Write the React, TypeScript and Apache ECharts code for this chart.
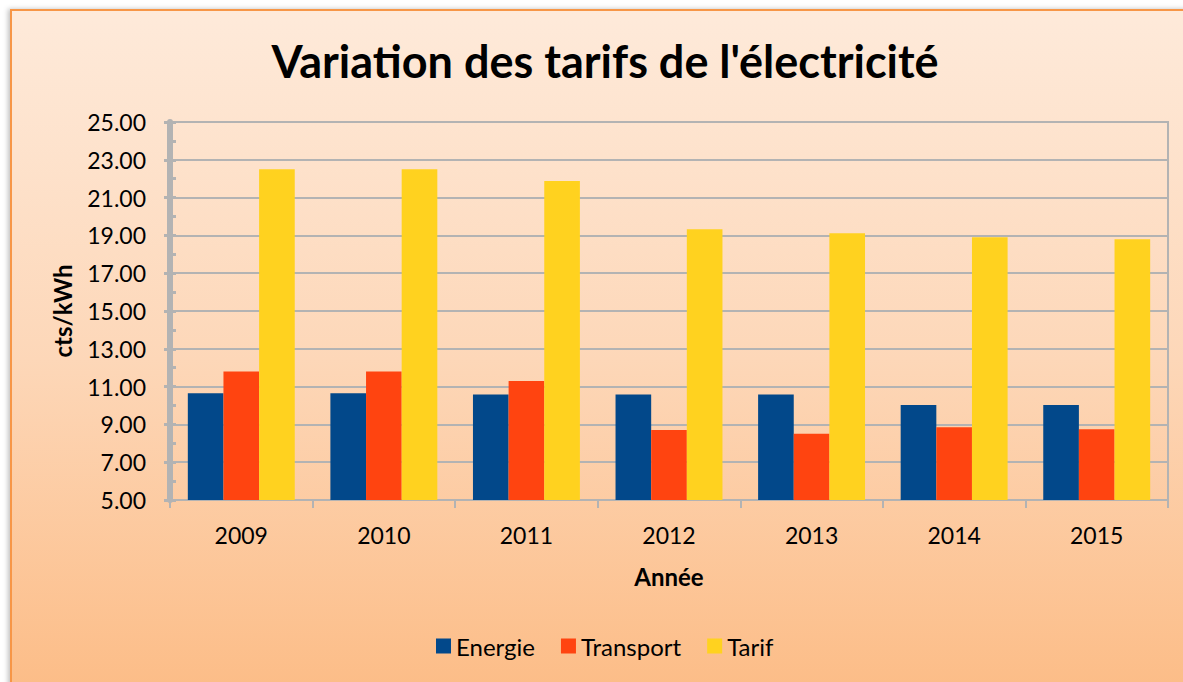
import React, { useEffect, useRef } from "react";
import * as echarts from "echarts";

const TITLE = "Variation des tarifs de l'électricité";
const Y_NAME = "cts/kWh";
const X_NAME = "Année";
const categories = ["2009", "2010", "2011", "2012", "2013", "2014", "2015"];
const energie = [10.65, 10.65, 10.58, 10.58, 10.58, 10.02, 10.02];
const transport = [11.8, 11.8, 11.3, 8.7, 8.5, 8.85, 8.75];
const tarif = [22.5, 22.5, 21.88, 19.33, 19.12, 18.9, 18.8];
const AXIS_MIN = 5;
const AXIS_MAX = 25;
const AXIS_STEP = 2;

const FONT = "Lato, 'Open Sans', sans-serif";
const GREY = "#B3B3B3";

export default function App() {
  const ref = useRef<HTMLDivElement>(null);
  useEffect(() => {
    if (!ref.current) return;
    const chart = echarts.init(ref.current, undefined, { renderer: "svg" });
    const shift = (arr: number[]) => arr.map((v) => +(v - AXIS_MIN).toFixed(4));
    const fmt = (v: number) => (v + AXIS_MIN).toFixed(2);
    chart.setOption({
      animation: false,
      backgroundColor: "#ffffff",
      textStyle: { fontFamily: FONT },
      graphic: [
        {
          type: "rect",
          z: -100,
          shape: { x: 11, y: 10, width: 1190, height: 700 },
          style: {
            fill: new echarts.graphic.LinearGradient(0, 0, 0, 1, [
              { offset: 0, color: "#FEEADA" },
              { offset: 0.5, color: "#FDD7B8" },
              { offset: 1, color: "#FCBB84" },
            ]),
            stroke: "#F79646",
            lineWidth: 2,
            shadowBlur: 5,
            shadowColor: "rgba(0,0,0,0.25)",
            shadowOffsetX: -2,
            shadowOffsetY: 0,
          },
        },
        {
          type: "text",
          x: 605,
          y: 61,
          style: {
            text: TITLE,
            fill: "#000000",
            fontFamily: FONT,
            fontWeight: "bold",
            fontSize: 45,
            align: "center",
            verticalAlign: "middle",
          },
        },
      ],
      grid: {
        left: 170,
        right: 15,
        top: 122,
        bottom: 182,
        show: true,
        borderColor: GREY,
        borderWidth: 2,
        backgroundColor: "transparent",
      },
      legend: {
        left: 431,
        top: 629,
        itemWidth: 15,
        itemHeight: 15,
        itemGap: 26,
        icon: "rect",
        textStyle: { fontFamily: FONT, fontSize: 24, color: "#000000" },
        data: ["Energie", "Transport", "Tarif"],
      },
      xAxis: {
        type: "category",
        data: categories,
        name: X_NAME,
        nameLocation: "middle",
        nameGap: 64,
        nameTextStyle: { fontFamily: FONT, fontSize: 24, fontWeight: "bold", color: "#000" },
        axisLine: { lineStyle: { color: GREY, width: 2 } },
        axisTick: { show: true, length: 8, lineStyle: { color: GREY, width: 2 } },
        axisLabel: { margin: 23, fontFamily: FONT, fontSize: 23, color: "#000" },
        splitLine: { show: false },
      },
      yAxis: [
        {
          type: "value",
          min: 0,
          max: AXIS_MAX - AXIS_MIN,
          interval: AXIS_STEP,
          name: Y_NAME,
          nameLocation: "middle",
          nameRotate: 90,
          nameGap: 96,
          nameTextStyle: { fontFamily: FONT, fontSize: 24, fontWeight: "bold", color: "#000" },
          axisLine: { show: true, lineStyle: { color: GREY, width: 6 } },
          axisTick: { show: true, length: 6, lineStyle: { color: GREY, width: 3 } },
          axisLabel: { margin: 24, fontFamily: FONT, fontSize: 23, color: "#000", formatter: fmt },
          splitLine: { show: true, lineStyle: { color: GREY, width: 2 } },
        },
        {
          type: "value",
          min: 0,
          max: AXIS_MAX - AXIS_MIN,
          interval: AXIS_STEP,
          position: "left",
          axisLine: { show: false },
          axisTick: { show: true, inside: true, length: 6, lineStyle: { color: GREY, width: 3 } },
          minorTick: { show: true, splitNumber: 2, length: 6, lineStyle: { color: GREY, width: 3 } },
          axisLabel: { show: false },
          splitLine: { show: false },
        },
      ],
      series: [
        {
          name: "Energie",
          type: "bar",
          data: shift(energie),
          itemStyle: { color: "#02488A" },
          barGap: "0%",
          barCategoryGap: "25%",
        },
        {
          name: "Transport",
          type: "bar",
          data: shift(transport),
          itemStyle: { color: "#FF4410" },
          barGap: "0%",
          barCategoryGap: "25%",
        },
        {
          name: "Tarif",
          type: "bar",
          data: shift(tarif),
          itemStyle: { color: "#FFD21F" },
          barGap: "0%",
          barCategoryGap: "25%",
        },
      ],
    });
    return () => chart.dispose();
  }, []);
  return (
    <div
      ref={ref}
      style={{ position: "fixed", left: 0, top: 0, width: 1183, height: 682 }}
    />
  );
}
